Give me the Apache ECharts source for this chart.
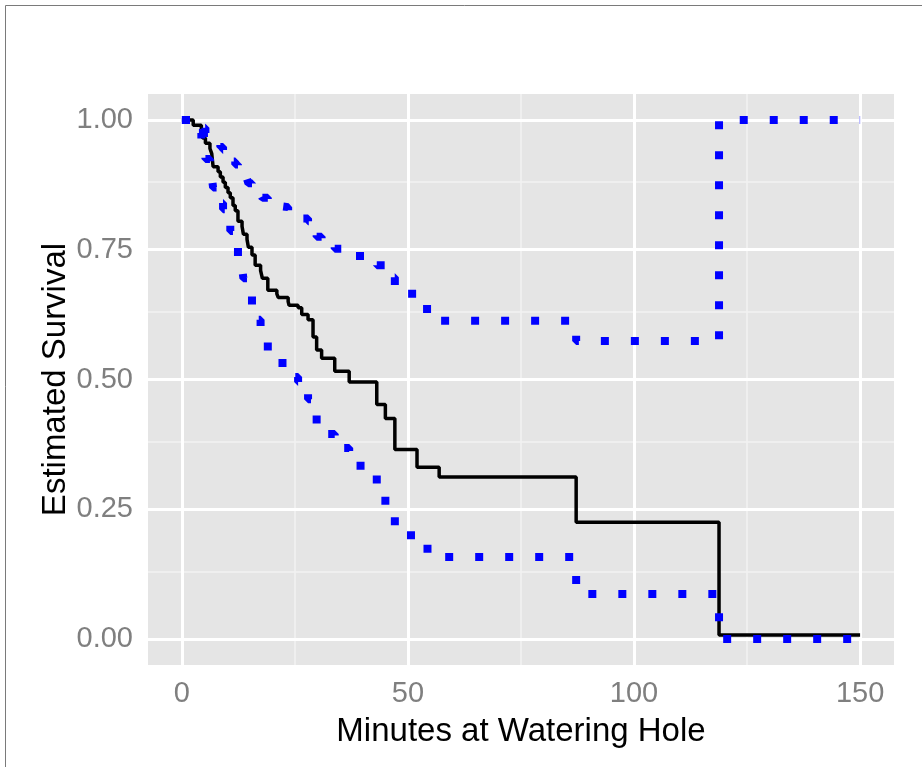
<!DOCTYPE html>
<html>
<head>
<meta charset="utf-8">
<script src="https://cdn.jsdelivr.net/npm/echarts@6/dist/echarts.min.js"></script>
<style>
  html, body { margin: 0; padding: 0; background: #fff; }
  #chart { width: 922px; height: 767px; }
</style>
</head>
<body>
<div id="chart"></div>
<script>
// step times (minutes) and estimates
const times = [0, 2.5, 4.3, 4.6, 5.2, 6.2, 6.6, 6.9, 8.0, 8.5, 9.1, 9.6, 10.2, 10.7, 11.3, 11.8,
  12.4, 13.3, 13.6, 14.4, 14.7, 15.5, 16.2, 17.4, 17.8, 19.0, 21.0, 21.3, 23.5, 23.7, 25.7,
  26.5, 27.9, 29.0, 29.8, 30.9, 33.8, 37.0, 43.1, 45.0, 47.1, 52.0, 56.9, 87.2, 118.8]
const survival = [1.0, 0.99, 0.98, 0.965, 0.955, 0.945, 0.935, 0.91, 0.9, 0.89, 0.88, 0.87, 0.86,
  0.85, 0.835, 0.825, 0.805, 0.795, 0.78, 0.77, 0.755, 0.74, 0.72, 0.71, 0.695, 0.672, 0.665,
  0.658, 0.65, 0.643, 0.638, 0.625, 0.615, 0.582, 0.557, 0.541, 0.516, 0.495, 0.452, 0.425,
  0.365, 0.331, 0.312, 0.225, 0.008]
const upper = [1.0, 1.0, 0.99, 0.985, 0.975, 0.97, 0.965, 0.958, 0.952, 0.948, 0.942, 0.936,
  0.932, 0.926, 0.92, 0.914, 0.905, 0.9, 0.892, 0.886, 0.878, 0.87, 0.862, 0.857, 0.85, 0.84,
  0.835, 0.832, 0.826, 0.822, 0.82, 0.81, 0.805, 0.788, 0.775, 0.765, 0.752, 0.738, 0.72,
  0.697, 0.665, 0.636, 0.613, 0.574, 1.0]
const lower = [1.0, 0.975, 0.96, 0.94, 0.925, 0.905, 0.89, 0.87, 0.855, 0.84, 0.828, 0.814,
  0.8, 0.786, 0.77, 0.755, 0.73, 0.715, 0.695, 0.68, 0.66, 0.64, 0.615, 0.6, 0.58, 0.555,
  0.542, 0.532, 0.518, 0.505, 0.495, 0.48, 0.462, 0.435, 0.41, 0.395, 0.368, 0.334, 0.29,
  0.252, 0.2, 0.174, 0.158, 0.087, 0.0]
const endTime = 150

const xTicks = [0, 50, 100, 150]
const xMinor = [25, 75, 125]
const yTicks = [0, 0.25, 0.5, 0.75, 1]
const yMinor = [0.125, 0.375, 0.625, 0.875]

function stepData(vals) {
  const d = times.map((t, i) => [t, vals[i]])
  d.push([endTime, vals[vals.length - 1]])
  return d
}

const gridLines = []
xMinor.forEach(v => gridLines.push({ xAxis: v, lineStyle: { color: '#f2f2f2', width: 1.5, type: 'solid' } }))
yMinor.forEach(v => gridLines.push({ yAxis: v, lineStyle: { color: '#f2f2f2', width: 1.5, type: 'solid' } }))
xTicks.forEach(v => gridLines.push({ xAxis: v, lineStyle: { color: '#ffffff', width: 3, type: 'solid' } }))
yTicks.forEach(v => gridLines.push({ yAxis: v, lineStyle: { color: '#ffffff', width: 3, type: 'solid' } }))

const chart = echarts.init(document.getElementById('chart'))

const option = {
  animation: false,
  backgroundColor: '#ffffff',
  graphic: [{
    type: 'rect',
    shape: { x: 5.5, y: 5.5, width: 940, height: 800 },
    style: { fill: 'none', stroke: '#7a7a7a', lineWidth: 1 },
    silent: true
  }],
  grid: {
    left: 148,
    right: 28,
    top: 94,
    bottom: 102,
    show: true,
    backgroundColor: '#e5e5e5',
    borderWidth: 0
  },
  xAxis: {
    type: 'value',
    min: -7.5,
    max: 157.5,
    axisLine: { show: false },
    splitLine: { show: false },
    axisTick: { show: true, customValues: xTicks, length: 5, lineStyle: { color: '#7f7f7f', width: 1.5 } },
    axisLabel: { customValues: xTicks, color: '#7f7f7f', fontSize: 29, margin: 14, fontFamily: 'Liberation Sans' },
    name: 'Minutes at Watering Hole',
    nameLocation: 'middle',
    nameGap: 50,
    nameMoveOverlap: false,
    nameTextStyle: { color: '#000', fontSize: 33, fontFamily: 'Liberation Sans' }
  },
  yAxis: {
    type: 'value',
    min: -0.05,
    max: 1.05,
    axisLine: { show: false },
    splitLine: { show: false },
    axisTick: { show: true, customValues: yTicks, length: 5, lineStyle: { color: '#7f7f7f', width: 1.5 } },
    axisLabel: {
      customValues: yTicks,
      color: '#7f7f7f',
      fontSize: 29,
      margin: 15,
      fontFamily: 'Liberation Sans',
      formatter: v => v.toFixed(2)
    },
    name: 'Estimated Survival',
    nameLocation: 'middle',
    nameGap: 76,
    nameMoveOverlap: false,
    nameTextStyle: { color: '#000', fontSize: 33, fontFamily: 'Liberation Sans' }
  },
  series: [
    {
      name: 'grid',
      type: 'line',
      data: [],
      silent: true,
      z: 1,
      markLine: {
        silent: true,
        symbol: 'none',
        z: 1,
        label: { show: false },
        animation: false,
        data: gridLines
      }
    },
    {
      name: 'Survival',
      type: 'line',
      step: 'end',
      showSymbol: false,
      z: 10,
      data: stepData(survival),
      lineStyle: { color: '#000000', width: 3.5 }
    },
    {
      name: 'Upper',
      type: 'line',
      step: 'end',
      showSymbol: false,
      z: 11,
      data: stepData(upper),
      lineStyle: { color: '#0000ff', width: 8, type: [8, 22], cap: 'butt' }
    },
    {
      name: 'Lower',
      type: 'line',
      step: 'end',
      showSymbol: false,
      z: 11,
      data: stepData(lower),
      lineStyle: { color: '#0000ff', width: 8, type: [8, 22], cap: 'butt' }
    }
  ]
}

chart.setOption(option)
window.addEventListener('resize', () => chart.resize(), { passive: true })
</script>
</body>
</html>
